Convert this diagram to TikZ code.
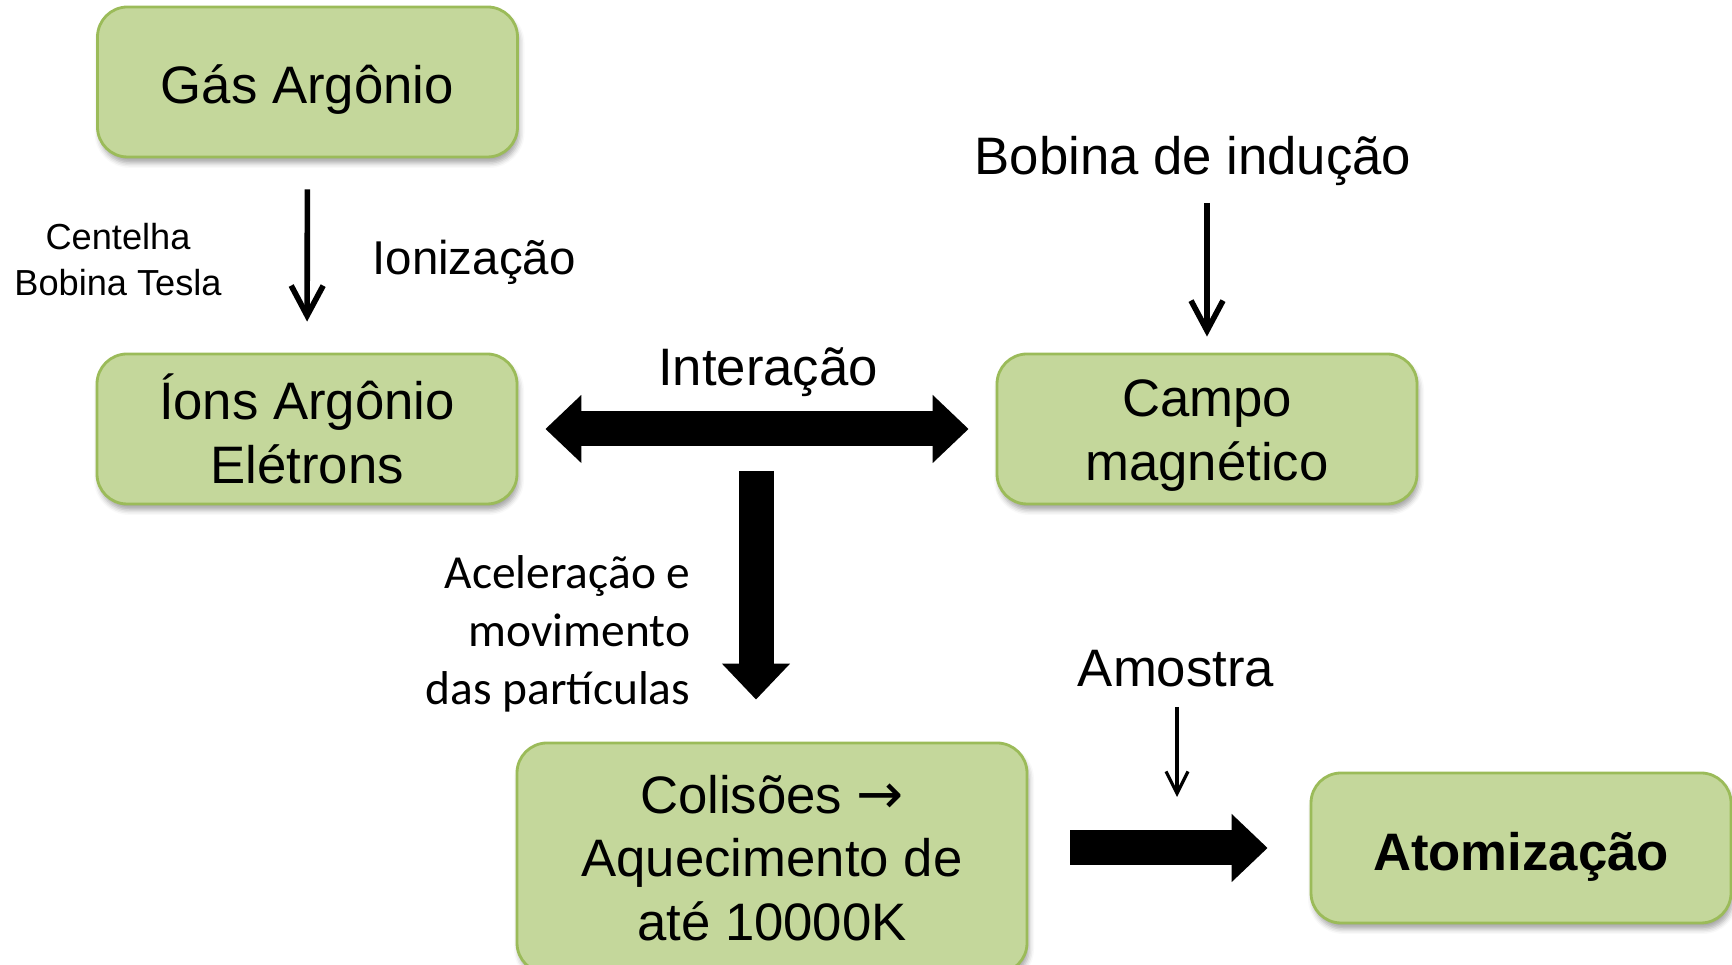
\documentclass[tikz,border=0pt]{standalone}
\usepackage{fontspec}
\setmainfont{Liberation Sans}
\newfontfamily\calibri{Carlito}
\newfontfamily\arrowfont{DejaVu Sans}
\usetikzlibrary{arrows.meta}
\usetikzlibrary{shadows.blur}

\definecolor{boxfill}{HTML}{C4D79B}
\definecolor{boxline}{HTML}{9BBB59}

\tikzset{
  stage/.style={rounded corners=0.3cm, fill=boxfill, draw=boxline, line width=0.8pt,
    minimum width=4.2cm, minimum height=1.5cm, align=center,
    font=\fontsize{15}{18}\selectfont,
    blur shadow={shadow xshift=0.02cm, shadow yshift=-0.06cm, shadow blur radius=0.05cm, shadow opacity=35}},
  note/.style={align=center, inner sep=0pt, font=\fontsize{15}{18}\selectfont},
  flow/.style={line width=1.6pt, -{Straight Barb[length=3mm,width=3.2mm]}},
  thinflow/.style={line width=0.9pt, -{Straight Barb[length=2.2mm,width=2.2mm]}},
  blockarrow/.style={line width=0.35cm, -{Triangle[length=3.6mm,width=6.6mm]}},
  blockboth/.style={line width=0.35cm, {Triangle[length=3.6mm,width=6.6mm]}-{Triangle[length=3.6mm,width=6.6mm]}}
}

\begin{document}
\begin{tikzpicture}

\useasboundingbox (0,0) rectangle (17.32,9.65);

\node[stage, text height=0.43cm, text depth=0cm] (gas) at (3.075,8.83) {Gás Argônio};
\node[stage] (ions) at (3.07,5.36) {Íons Argônio\\Elétrons};
\node[stage] (campo) at (12.07,5.36) {\rule{0pt}{0.5cm}Campo\\magnético};
\node[stage, minimum width=5.1cm, minimum height=2.3cm] (colisoes) at (7.72,1.07) {Colisões {\arrowfont\fontsize{16}{18}\selectfont →}\\Aquecimento de\\até 10000K};
\node[stage, font=\fontsize{15}{18}\selectfont\bfseries, text height=0.455cm, text depth=0cm] (atom) at (15.21,1.17) {Atomização};

%labels
\node[note] (bobina) at (11.93,8.035) {Bobina de indução};
\node[note, font=\fontsize{10.3}{13.1}\selectfont] (centelha) at (1.18,7.05) {Centelha\\Bobina Tesla};
\node[note, font=\fontsize{13.5}{16}\selectfont] (ioniz) at (4.74,7.025) {Ionização};
\node[note] (interacao) at (7.68,5.925) {Interação};
\node[note, align=right, anchor=east, font=\calibri\fontsize{13.5}{16.4}\selectfont] (acel) at (6.91,3.31) {Aceleração e\\movimento\\das partículas};
\node[note] (amostra) at (11.76,2.96) {Amostra};

%free ends
\coordinate (bobfoot) at (12.07,7.62);
\coordinate (acctop) at (7.56,4.94);
\coordinate (amfoot) at (11.77,2.58);

\draw[flow, shorten <=0.31cm, shorten >=0.31cm] (gas.south) -- (ions.north);
\draw[flow, shorten >=0.16cm] (bobfoot) -- (campo.north);
\draw[thinflow, shorten >=0.10cm] (amfoot) -- (amfoot |- 0,1.58);

%block arrows
\draw[blockboth, shorten <=0.27cm, shorten >=0.27cm] (ions.east) -- (campo.west);
\draw[blockarrow, shorten >=0.42cm] (acctop) -- (acctop |- colisoes.north);
\draw[blockarrow, shorten <=0.42cm, shorten >=0.42cm] (colisoes.east |- atom.west) -- (atom.west);

\end{tikzpicture}
\end{document}
